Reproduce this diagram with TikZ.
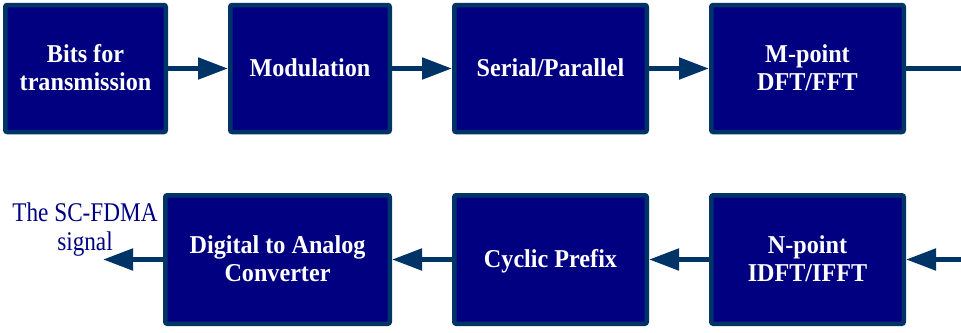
\documentclass[tikz,border=0pt]{standalone}
\usepackage{fontspec}
\setmainfont{Liberation Serif}
\usepackage{graphicx}
\usetikzlibrary{arrows.meta}
\definecolor{boxfill}{HTML}{000080}
\definecolor{edgeblue}{HTML}{003366}
\definecolor{labnavy}{HTML}{000080}
\newcommand{\bxt}[1]{\raisebox{-2.2pt}[\height][\depth]{\scalebox{0.94}[1]{\fontsize{25.7}{28.5}\selectfont\bfseries\begin{tabular}{@{}c@{}}#1\end{tabular}}}}
\newcommand{\lbt}[1]{\scalebox{0.86}[1]{\fontsize{27}{29}\selectfont\begin{tabular}{@{}c@{}}#1\end{tabular}}}
\begin{document}
\begin{tikzpicture}[x=1pt,y=-1pt,
  blockbox/.style={draw=edgeblue, fill=boxfill, line width=4.5pt, rounded corners=2pt,
    text=white, inner sep=0pt, minimum height=127pt},
  conn/.style={draw=edgeblue, line width=5pt},
  tipconn/.style={conn, -{Triangle[length=30pt,width=21pt]}}]
\useasboundingbox (0,0) rectangle (961,332);
% top row
\node[blockbox, minimum width=160.5pt] (bits) at (85.5,68.5) {\bxt{Bits for\\transmission}};
\node[blockbox, minimum width=159.5pt] (mod) at (310,68.5) {\bxt{Modulation}};
\node[blockbox, minimum width=192.5pt] (sp) at (550.5,68.5) {\bxt{Serial/Parallel}};
\node[blockbox, minimum width=192.5pt] (dft) at (807.5,68.5) {\bxt{M-point\\DFT/FFT}};
% bottom row
\node[blockbox, minimum width=224.5pt, minimum height=128.5pt] (dac) at (277.5,259.5) {\bxt{Digital to Analog\\Converter}};
\node[blockbox, minimum width=192.5pt, minimum height=128.5pt] (cp) at (550.5,259.5) {\bxt{Cyclic Prefix}};
\node[blockbox, minimum width=192.5pt, minimum height=128.5pt] (idft) at (807.5,259.5) {\bxt{N-point\\IDFT/IFFT}};
% output label
\node[text=labnavy, inner sep=0pt] (out) at (85,230) {\lbt{The SC-FDMA\\signal}};
% free ends
\coordinate (topend) at (961,68.5);
\coordinate (botstart) at (961,259.5);
\coordinate (outend) at (103,259.5);
% connectors
\draw[tipconn] (bits) -- (mod);
\draw[tipconn] (mod) -- (sp);
\draw[tipconn] (sp) -- (dft);
\draw[conn] (dft) -- (topend);
\draw[tipconn] (botstart) -- (idft);
\draw[tipconn] (idft) -- (cp);
\draw[tipconn] (cp) -- (dac);
\draw[tipconn] (dac) -- (outend);
\end{tikzpicture}
\end{document}
